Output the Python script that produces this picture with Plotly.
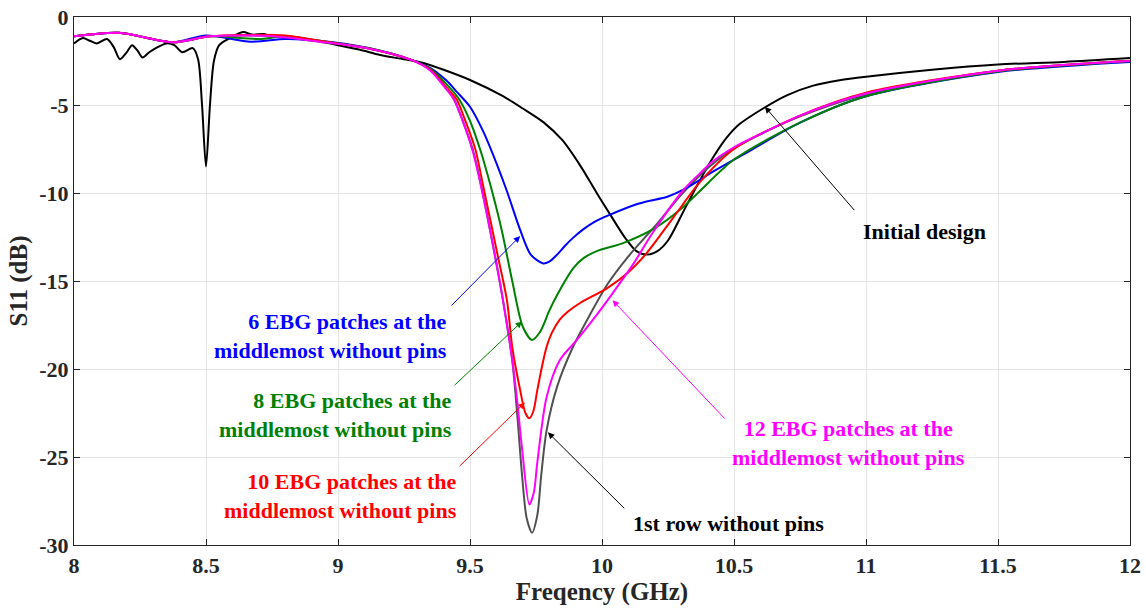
import plotly.graph_objects as go

# ---------------- data ----------------
f_init = [8.0, 8.034, 8.06, 8.087, 8.125, 8.15, 8.174, 8.2, 8.22, 8.24, 8.26, 8.285, 8.31, 8.35, 8.38,
          8.41, 8.45, 8.47, 8.485, 8.5, 8.515, 8.53, 8.55, 8.59, 8.64, 8.675, 8.72, 8.75, 8.8, 8.9,
          9.0, 9.08, 9.16, 9.25, 9.32, 9.4, 9.5, 9.625, 9.7, 9.78, 9.85, 9.92, 9.98, 10.03, 10.09,
          10.13, 10.17, 10.21, 10.25, 10.31, 10.37, 10.42, 10.47, 10.52, 10.61, 10.7, 10.8, 10.9,
          11.0, 11.25, 11.5, 11.75, 12.0]
s_init = [-1.5, -1.2, -1.35, -1.5, -1.25, -1.7, -2.4, -2.0, -1.6, -1.9, -2.3, -2.0, -1.77, -1.5, -1.6,
          -2.0, -1.77, -2.4, -5.0, -8.5, -5.0, -2.5, -1.6, -1.2, -0.85, -1.0, -0.97, -1.1, -1.08, -1.3,
          -1.6, -1.85, -2.16, -2.4, -2.6, -3.0, -3.58, -4.5, -5.2, -6.0, -7.0, -8.5, -10.0, -11.2, -12.6,
          -13.3, -13.5, -13.3, -12.7, -11.0, -9.3, -8.0, -6.9, -6.1, -5.2, -4.45, -3.9, -3.6,
          -3.4, -3.0, -2.7, -2.55, -2.33]

f_row1 = [8.0, 8.17, 8.375, 8.515, 8.74, 8.93, 9.12, 9.28, 9.35, 9.41, 9.44, 9.47, 9.51, 9.54, 9.59,
          9.625, 9.66, 9.68, 9.697, 9.715, 9.735, 9.755, 9.77, 9.79, 9.83, 9.89, 9.955, 10.02, 10.1,
          10.2, 10.3, 10.4, 10.5, 10.75, 11.0, 11.5, 12.0]
s_row1 = [-1.1, -0.9, -1.44, -1.1, -1.08, -1.4, -1.8, -2.45, -3.0, -4.0, -4.7, -5.8, -7.5, -9.4, -13.2,
          -16.1, -19.5, -22.8, -26.0, -28.5, -29.3, -28.3, -26.0, -23.5, -21.0, -18.75, -16.9, -15.2, -13.6,
          -11.9, -10.1, -8.6, -7.45, -5.65, -4.4, -3.05, -2.5]

f_p6 = [8.0, 8.17, 8.375, 8.5, 8.67, 8.8, 8.93, 9.12, 9.28, 9.35, 9.41, 9.45, 9.5, 9.55, 9.6,
        9.64, 9.69, 9.73, 9.777, 9.8, 9.83, 9.86, 9.89, 9.93, 9.97, 10.02, 10.14, 10.25, 10.31, 10.43,
        10.56, 10.75, 11.0, 11.5, 12.0]
s_p6 = [-1.1, -0.9, -1.44, -1.05, -1.4, -1.25, -1.35, -1.78, -2.45, -2.9, -3.6, -4.25, -5.1, -6.5, -8.3,
        -9.9, -12.1, -13.5, -14.0, -13.9, -13.5, -13.0, -12.55, -12.05, -11.65, -11.3, -10.6, -10.2, -9.8,
        -8.7, -7.6, -6.0, -4.5, -3.12, -2.55]

f_p8 = [8.0, 8.17, 8.375, 8.515, 8.7, 8.8, 8.93, 9.12, 9.28, 9.35, 9.41, 9.46, 9.5, 9.54, 9.58,
        9.62, 9.66, 9.7, 9.735, 9.765, 9.8, 9.83, 9.89, 9.93, 9.98, 10.08, 10.2, 10.3, 10.37, 10.5,
        10.75, 11.0, 11.5, 12.0]
s_p8 = [-1.1, -0.9, -1.44, -1.1, -1.25, -1.1, -1.35, -1.78, -2.45, -2.95, -3.8, -4.7, -5.9, -7.6, -9.7,
        -12.1, -15.0, -17.6, -18.35, -17.9, -16.7, -15.8, -14.3, -13.7, -13.3, -12.85, -12.0, -10.9, -9.9,
        -8.1, -6.0, -4.5, -3.1, -2.52]

f_p10 = [8.0, 8.17, 8.375, 8.515, 8.8, 8.93, 9.12, 9.28, 9.35, 9.41, 9.45, 9.48, 9.52, 9.55, 9.6,
         9.64, 9.66, 9.69, 9.71, 9.725, 9.74, 9.755, 9.775, 9.79, 9.81, 9.84, 9.87, 9.917, 10.02, 10.1,
         10.17, 10.27, 10.37, 10.5, 10.75, 11.0, 11.5, 12.0]
s_p10 = [-1.1, -0.9, -1.44, -1.1, -1.05, -1.35, -1.8, -2.45, -3.0, -4.0, -4.7, -5.8, -7.5, -9.6, -13.2,
         -16.1, -18.75, -21.2, -22.5, -22.8, -22.4, -21.2, -19.7, -18.75, -17.95, -17.2, -16.75, -16.25, -15.4,
         -14.5, -13.4, -11.4, -9.4, -7.5, -5.6, -4.3, -3.05, -2.48]

f_p12 = [8.0, 8.17, 8.375, 8.515, 8.74, 8.93, 9.12, 9.28, 9.35, 9.41, 9.44, 9.47, 9.51, 9.54, 9.59,
         9.625, 9.66, 9.68, 9.697, 9.725, 9.742, 9.755, 9.79, 9.84, 9.905, 9.966, 10.04, 10.12, 10.19,
         10.31, 10.37, 10.42, 10.5, 10.6, 10.75, 11.0, 11.5, 12.0]
s_p12 = [-1.1, -0.9, -1.44, -1.1, -1.08, -1.4, -1.8, -2.45, -3.05, -4.1, -4.7, -5.8, -7.6, -9.5, -13.2,
         -16.1, -19.5, -22.0, -24.5, -27.7, -27.0, -25.3, -21.6, -19.5, -18.35, -17.2, -15.7, -14.0, -12.3,
         -9.8, -8.9, -8.2, -7.4, -6.65, -5.6, -4.35, -3.05, -2.5]

x_ticks = [8, 8.5, 9, 9.5, 10, 10.5, 11, 11.5, 12]
x_ticktext = ["8", "8.5", "9", "9.5", "10", "10.5", "11", "11.5", "12"]
y_ticks = [0, -5, -10, -15, -20, -25, -30]
y_ticktext = ["0", "-5", "-10", "-15", "-20", "-25", "-30"]

FONT = "Liberation Serif"

fig = go.Figure()
series = [
    ("Initial design", f_init, s_init, "#000000"),
    ("1st row without pins", f_row1, s_row1, "#505050"),
    ("6 EBG", f_p6, s_p6, "#0000ff"),
    ("8 EBG", f_p8, s_p8, "#008000"),
    ("10 EBG", f_p10, s_p10, "#ff0000"),
    ("12 EBG", f_p12, s_p12, "#ff00ff"),
]
for name, fx, sy, col in series:
    fig.add_trace(go.Scatter(x=fx, y=sy, mode="lines", name=name,
                             line=dict(color=col, width=2, shape="spline", smoothing=0.8),
                             showlegend=False))

def label(x, y, text, color, xanchor="center"):
    fig.add_annotation(x=x, y=y, xref="x", yref="y", text=text, showarrow=False,
                       xanchor=xanchor, yanchor="middle", align="right" if xanchor == "right" else "center",
                       font=dict(family=FONT, size=22, color=color, weight="bold"))

def arrow(tx, ty, hx, hy, color):
    fig.add_annotation(x=hx, y=hy, ax=tx, ay=ty, xref="x", yref="y", axref="x", ayref="y",
                       text="", showarrow=True, arrowhead=2, arrowsize=1.3, arrowwidth=1,
                       arrowcolor=color, standoff=0)

label(11.22, -12.16, "Initial design", "#000000")
arrow(10.96, -11.05, 10.617, -5.1, "#000000")

label(9.42, -18.1, "6 EBG patches at the<br>middlemost without pins", "#0000ff", "right")
arrow(9.424, -16.48, 9.69, -12.45, "#0000ff")

label(9.44, -22.6, "8 EBG patches at the<br>middlemost without pins", "#008000", "right")
arrow(9.436, -21.0, 9.697, -17.3, "#008000")

label(9.46, -27.2, "10 EBG patches at the<br>middlemost without pins", "#ff0000", "right")
arrow(9.455, -25.6, 9.708, -21.9, "#ff0000")

label(10.48, -28.75, "1st row without pins", "#000000")
arrow(10.09, -28.0, 9.795, -23.6, "#000000")

label(10.935, -24.2, "12 EBG patches at the<br>middlemost without pins", "#ff00ff")
arrow(10.47, -22.9, 10.04, -16.1, "#ff00ff")

axis_common = dict(showline=True, linecolor="#262626", linewidth=1.2, mirror="ticks",
                   ticks="inside", ticklen=6, tickcolor="#262626", automargin=False,
                   showgrid=True, gridcolor="#e6e6e6", gridwidth=1, zeroline=False,
                   tickfont=dict(family=FONT, size=22, color="#262626", weight="bold"))

fig.update_xaxes(range=[8, 12], tickvals=x_ticks, ticktext=x_ticktext,
                 title=dict(text="Freqency (GHz)", standoff=4,
                            font=dict(family=FONT, size=25, color="#262626", weight="bold")),
                 **axis_common)
fig.update_yaxes(range=[-30, 0], tickvals=y_ticks, ticktext=y_ticktext,
                 title=dict(text="S11 (dB)", standoff=4,
                            font=dict(family=FONT, size=25, color="#262626", weight="bold")),
                 **axis_common)

fig.update_layout(width=1146, height=610, margin=dict(l=74, r=16, t=17, b=65),
                  plot_bgcolor="white", paper_bgcolor="white")

fig.write_html("out.html", config={"displayModeBar": False},
               post_script="document.body.style.margin='0px';")
